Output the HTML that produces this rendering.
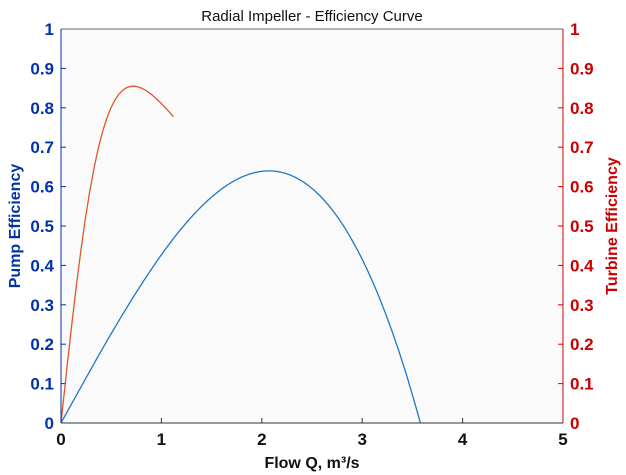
<!DOCTYPE html>
<html><head><meta charset="utf-8"><style>
body{margin:0;background:#fff;}
svg{display:block;font-family:"Liberation Sans",Arial,sans-serif;}
</style></head><body>
<svg id="s" width="626" height="475" viewBox="0 0 626 475">
<rect width="626" height="475" fill="#fff"/>
<rect x="61" y="29" width="502" height="394" fill="#fafafa"/>
<g id="g"></g>
<path id="blue" fill="none" stroke="#1f77c8" stroke-width="1.3"/>
<path id="red" fill="none" stroke="#e0562a" stroke-width="1.3"/>
<line x1="61" y1="29" x2="563" y2="29" stroke="#666" stroke-width="1"/>
<line x1="61" y1="423" x2="563" y2="423" stroke="#333" stroke-width="1"/>
<line x1="61" y1="29" x2="61" y2="423" stroke="#0033aa" stroke-width="1"/>
<line x1="563" y1="29" x2="563" y2="423" stroke="#dd0000" stroke-width="1"/>
<text x="312" y="21" text-anchor="middle" font-size="15" fill="#111">Radial Impeller - Efficiency Curve</text>
<text x="312" y="468" text-anchor="middle" font-size="16" fill="#111" font-weight="bold">Flow Q, m³/s</text>
<text transform="translate(20,226) rotate(-90)" text-anchor="middle" font-size="16" font-weight="bold" fill="#0033aa">Pump Efficiency</text>
<text transform="translate(617,226) rotate(-90)" text-anchor="middle" font-size="16" font-weight="bold" fill="#cc0000">Turbine Efficiency</text>
</svg>
<script>
var g=document.getElementById('g'),h='';
function X(q){return 61+q*100.4;}
function Y(e){return 423-e*394;}
for(var i=0;i<=5;i++){var x=X(i);
h+='<line x1="'+x+'" y1="423" x2="'+x+'" y2="418" stroke="#333"/>';
h+='<text x="'+x+'" y="445" text-anchor="middle" font-size="17" font-weight="bold" fill="#111">'+i+'</text>';}
for(var j=0;j<=10;j++){var y=Y(j/10),l=j==0?'0':j==10?'1':'0.'+j;
h+='<line x1="61" y1="'+y+'" x2="66" y2="'+y+'" stroke="#0033aa"/>';
h+='<line x1="563" y1="'+y+'" x2="558" y2="'+y+'" stroke="#dd0000"/>';
h+='<text x="54" y="'+(y+6)+'" text-anchor="end" font-size="17" font-weight="bold" fill="#0033aa">'+l+'</text>';
h+='<text x="570" y="'+(y+6)+'" font-size="17" font-weight="bold" fill="#cc0000">'+l+'</text>';}
g.innerHTML=h;
var b='',r='';
for(var k=0;k<=200;k++){var q=3.58*k/200,e=0.461*q+0.0026*q*q-0.0367*q*q*q;if(e<0)e=0;
b+=(k?'L':'M')+X(q).toFixed(1)+' '+Y(e).toFixed(1);}
for(var k=0;k<=100;k++){var q=1.12*k/100,e=2.375*q/(1+1.93*q*q);
r+=(k?'L':'M')+X(q).toFixed(1)+' '+Y(e).toFixed(1);}
document.getElementById('blue').setAttribute('d',b);
document.getElementById('red').setAttribute('d',r);
</script>
</body></html>
